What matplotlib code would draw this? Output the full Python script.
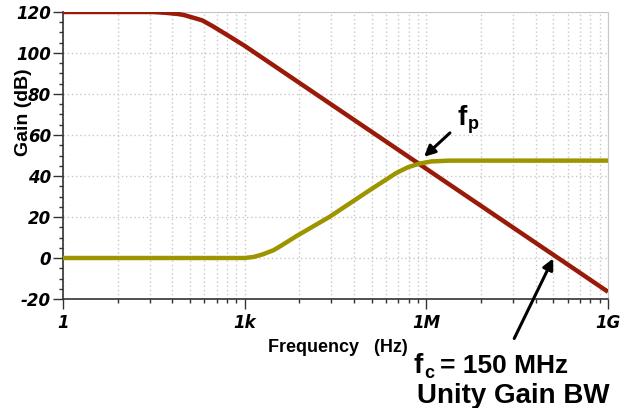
import matplotlib.pyplot as plt
from matplotlib.ticker import FixedLocator, NullFormatter
import numpy as np

# open-loop gain (dark red)
freq_ol = [1, 10, 30, 50, 80, 100, 150, 200, 300, 500, 1e3, 1e4, 1e5, 1e6, 1e7, 1e8, 1.5e8, 1e9]
gain_ol = [120, 120, 120, 119.6, 119, 118.5, 117, 115.9, 113, 109, 103.5, 83.5, 63.5, 43.5, 23.5, 3.5, 0, -16.5]

# noise / feedback gain (olive)
freq_fb = [1, 1e3, 1.4e3, 2e3, 3e3, 4e3, 7e3, 2.5e4, 1.15e5, 3.2e5, 5e5, 7.6e5, 1.2e6, 2.4e6, 1e9]
gain_fb = [0, 0, 0.5, 1.8, 3.8, 6, 10.5, 20, 33, 41.5, 44.3, 46, 47.1, 47.5, 47.5]

xticks = [1, 1e3, 1e6, 1e9]
xlabels = ["1", "1k", "1M", "1G"]
yticks = [-20, 0, 20, 40, 60, 80, 100, 120]

RED = "#9a1a0a"
OLIVE = "#9c9500"
W, H = 626, 408

plt.rcParams['font.family'] = ['Liberation Sans', 'DejaVu Sans']
plt.rcParams['axes.unicode_minus'] = False

fig = plt.figure(figsize=(6.26, 4.08), dpi=100)
ax = fig.add_axes([63/W, 1 - 299/H, 545/W, 287/H])

ax.plot(freq_ol, gain_ol, color=RED, lw=3.2, solid_capstyle='butt', zorder=3)
ax.plot(freq_fb, gain_fb, color=OLIVE, lw=3.2, solid_capstyle='butt', zorder=3)

ax.set_xscale('log')
ax.set_xlim(1, 1e9)
ax.set_ylim(-20, 120)

# minor ticks at k^3 within each thousand-decade
minors = [k**3 * 1000**n for n in range(3) for k in range(2, 10)]
ax.xaxis.set_major_locator(FixedLocator(xticks))
ax.xaxis.set_minor_locator(FixedLocator(minors))
ax.xaxis.set_minor_formatter(NullFormatter())
ax.set_xticklabels(xlabels)
ax.set_yticks(yticks)
ax.yaxis.set_minor_locator(FixedLocator(np.arange(-20, 121, 5)))

ax.grid(which='both', axis='x', color='#c8c8c8', ls=(0, (1, 2)), lw=1)
ax.grid(which='major', axis='y', color='#c8c8c8', ls=(0, (1, 2)), lw=1)

for s in ['top', 'right']:
    ax.spines[s].set_color('#c8c8c8')
for s in ['left', 'bottom']:
    ax.spines[s].set_color('#333333')
    ax.spines[s].set_linewidth(1.2)

ax.tick_params(which='major', length=7.5, width=1, color='#333333')
ax.tick_params(which='minor', length=3, width=1, color='#333333')
ax.tick_params(axis='y', which='major', pad=1)
ax.tick_params(axis='x', which='major', pad=3)
for lab in ax.get_xticklabels() + ax.get_yticklabels():
    lab.set_family('DejaVu Sans')
    lab.set_fontweight('bold')
    lab.set_fontstyle('italic')
    lab.set_fontsize(12)

fig.text(24/W, 1 - 112/H, "Gain (dB)", rotation=90, ha='center', va='center',
         fontsize=14, fontweight='bold')
fig.text(338/W, 1 - 348/H, "Frequency   (Hz)", ha='center', va='center',
         fontsize=13, fontweight='bold')


def px_text(x, y, s, size):
    fig.text(x/W, 1 - y/H, s, ha='left', va='baseline', fontsize=size, fontweight='bold')


# f_p marker
ax.annotate("", xy=(8.5e5, 48.5), xytext=(452/W, 1 - 131/H), textcoords='figure fraction',
            arrowprops=dict(arrowstyle='-|>', color='black', lw=2.2, mutation_scale=16))
px_text(458, 125, "f", 20)
px_text(468, 129, "p", 13)

# unity gain crossing
ax.annotate("", xy=(1.3e8, 1), xytext=(513/W, 1 - 341/H), textcoords='figure fraction',
            arrowprops=dict(arrowstyle='-|>', color='black', lw=2.2, mutation_scale=16))
px_text(414, 373, "f", 20)
px_text(424, 378, "c", 13)
px_text(440, 373, "= 150 MHz", 19)
px_text(417, 403, "Unity Gain BW", 20)

fig.savefig("out.png", dpi=100)
